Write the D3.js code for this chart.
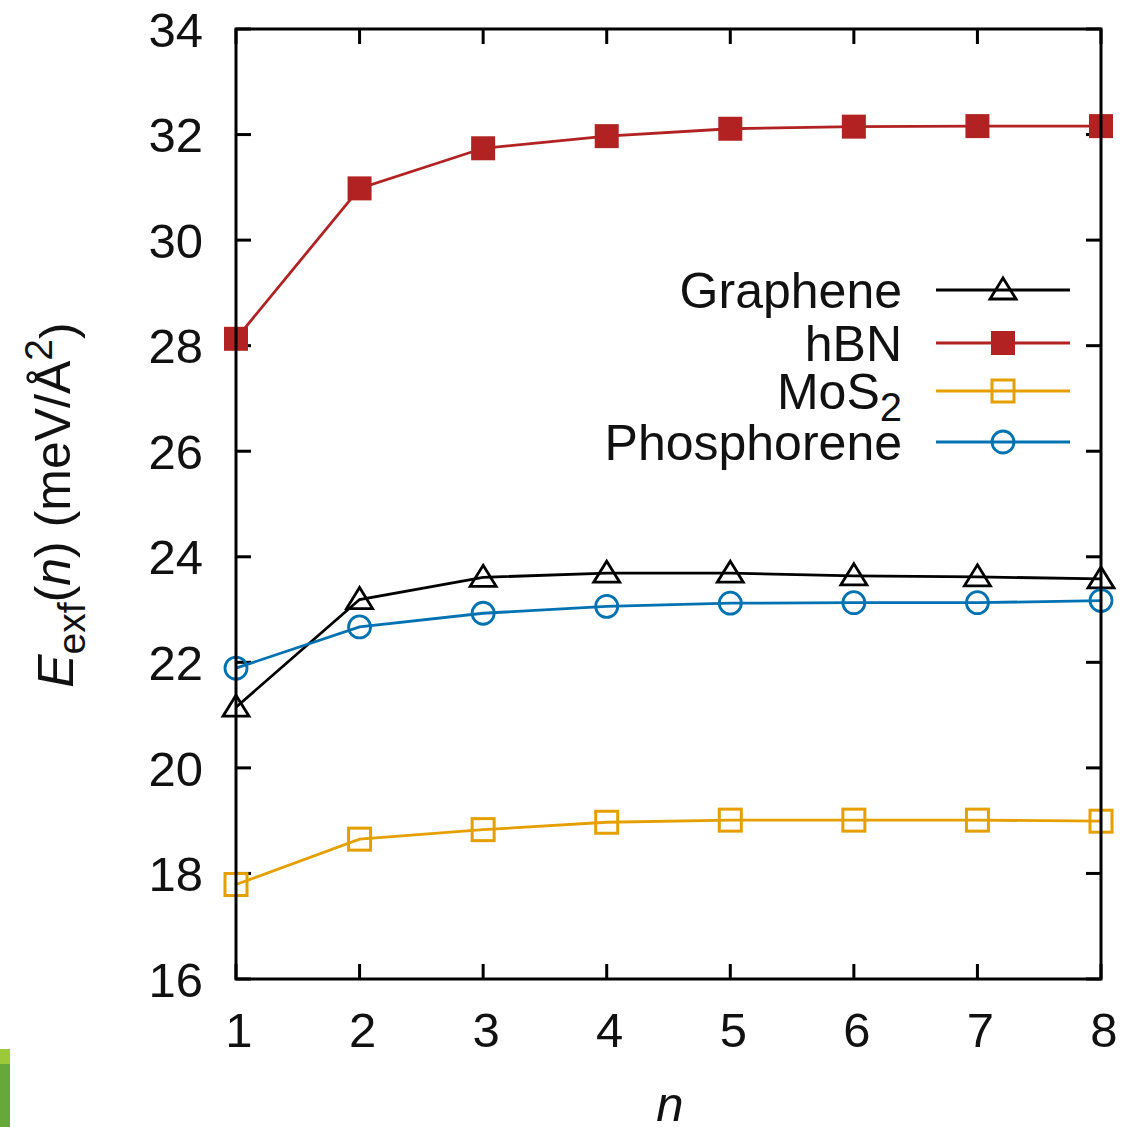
<!DOCTYPE html>
<html>
<head>
<meta charset="utf-8">
<script src="https://cdn.jsdelivr.net/npm/d3@7"></script>
<style>
  html, body { margin: 0; padding: 0; background: #fff; }
  svg text { font-family: "Liberation Sans", Arial, sans-serif; fill: #111; }
</style>
</head>
<body>
<div id="chart"></div>
<script>
// data
const layers = [1, 2, 3, 4, 5, 6, 7, 8]
const graphene = [21.15, 23.19, 23.61, 23.69, 23.69, 23.64, 23.62, 23.58]
const hbn = [28.13, 30.98, 31.74, 31.97, 32.11, 32.15, 32.16, 32.16]
const mos2 = [17.79, 18.65, 18.83, 18.97, 19.01, 19.01, 19.01, 18.99]
const phosphorene = [21.89, 22.67, 22.93, 23.06, 23.12, 23.13, 23.13, 23.17]
const yTicks = [16, 18, 20, 22, 24, 26, 28, 30, 32, 34]

const series = [
  { name: 'Graphene', values: graphene, color: '#000000', marker: 'triangle' },
  { name: 'hBN', values: hbn, color: '#b22222', marker: 'filledSquare' },
  { name: 'MoS', sub: '2', values: mos2, color: '#e69f00', marker: 'square' },
  { name: 'Phosphorene', values: phosphorene, color: '#0072b2', marker: 'circle' }
]

const width = 1125, height = 1127
const margin = { left: 236, right: 24, top: 29, bottom: 148 }

const svg = d3.select('#chart').append('svg')
  .attr('width', width)
  .attr('height', height)

const x = d3.scaleLinear().domain([1, 8]).range([margin.left, width - margin.right])
const y = d3.scaleLinear().domain([16, 34]).range([height - margin.bottom, margin.top])

const fontSize = 49
const tickLen = 15
const lw = 2.8

// ticks on all four sides, pointing inward
const frame = svg.append('g')
yTicks.forEach(v => {
  frame.append('line').attr('x1', x(1)).attr('x2', x(1) + tickLen).attr('y1', y(v)).attr('y2', y(v))
  frame.append('line').attr('x1', x(8)).attr('x2', x(8) - tickLen).attr('y1', y(v)).attr('y2', y(v))
  svg.append('text')
    .attr('x', x(1) - 33)
    .attr('y', y(v))
    .attr('dy', '0.36em')
    .attr('text-anchor', 'end')
    .style('font-size', fontSize + 'px')
    .text(v)
})
layers.forEach(v => {
  frame.append('line').attr('x1', x(v)).attr('x2', x(v)).attr('y1', y(16)).attr('y2', y(16) - tickLen)
  frame.append('line').attr('x1', x(v)).attr('x2', x(v)).attr('y1', y(34)).attr('y2', y(34) + tickLen)
  svg.append('text')
    .attr('x', x(v) + 3)
    .attr('y', 1047)
    .attr('text-anchor', 'middle')
    .style('font-size', fontSize + 'px')
    .text(v)
})
frame.selectAll('line').attr('stroke', '#000').attr('stroke-width', 3)

function drawMarker(g, type, cx, cy, color) {
  if (type === 'triangle') {
    g.append('path')
      .attr('d', `M${cx},${cy - 12}L${cx + 13},${cy + 9}L${cx - 13},${cy + 9}Z`)
      .attr('fill', 'none').attr('stroke', color).attr('stroke-width', lw)
  } else if (type === 'filledSquare') {
    g.append('rect').attr('x', cx - 12).attr('y', cy - 12).attr('width', 24).attr('height', 24)
      .attr('fill', color)
  } else if (type === 'square') {
    g.append('rect').attr('x', cx - 11).attr('y', cy - 11).attr('width', 22).attr('height', 22)
      .attr('fill', 'none').attr('stroke', color).attr('stroke-width', 3)
  } else {
    g.append('circle').attr('cx', cx).attr('cy', cy).attr('r', 11)
      .attr('fill', 'none').attr('stroke', color).attr('stroke-width', lw)
  }
}

const line = d3.line().x((d, i) => x(layers[i])).y(d => y(d))

series.forEach(s => {
  const g = svg.append('g')
  g.append('path')
    .datum(s.values)
    .attr('d', line)
    .attr('fill', 'none')
    .attr('stroke', s.color)
    .attr('stroke-width', lw)
  s.values.forEach((v, i) => drawMarker(g, s.marker, x(layers[i]), y(v), s.color))
})

// legend
const legendY = [290, 343, 391, 442]
series.forEach((s, i) => {
  const ly = legendY[i]
  const g = svg.append('g')
  const t = g.append('text')
    .attr('x', 902)
    .attr('y', ly)
    .attr('dy', '0.36em')
    .attr('text-anchor', 'end')
    .style('font-size', '50px')
  t.append('tspan').text(s.name)
  if (s.sub) {
    t.append('tspan').attr('dy', '0.3em').style('font-size', '40px').text(s.sub)
  }
  g.append('line').attr('x1', 936).attr('x2', 1070).attr('y1', ly).attr('y2', ly)
    .attr('stroke', s.color).attr('stroke-width', lw)
  drawMarker(g, s.marker, 1003, ly, s.color)
})

// frame
svg.append('rect')
  .attr('x', x(1)).attr('y', y(34))
  .attr('width', x(8) - x(1)).attr('height', y(16) - y(34))
  .attr('fill', 'none').attr('stroke', '#000').attr('stroke-width', 3)

// axis titles
svg.append('text')
  .attr('x', 670)
  .attr('y', 1121)
  .attr('text-anchor', 'middle')
  .style('font-size', fontSize + 'px')
  .style('font-style', 'italic')
  .text('n')

const yl = svg.append('text')
  .attr('transform', `translate(73,${505}) rotate(-90)`)
  .attr('text-anchor', 'middle')
  .style('font-size', '50px')
yl.append('tspan').style('font-style', 'italic').text('E')
yl.append('tspan').attr('dy', '0.3em').style('font-size', '39px').text('exf')
yl.append('tspan').attr('dy', '-0.3em').text('(')
yl.append('tspan').style('font-style', 'italic').text('n')
yl.append('tspan').text(') (meV/Å')
yl.append('tspan').attr('dy', '-0.45em').style('font-size', '39px').text('2')
yl.append('tspan').attr('dy', '0.45em').text(')')

// green strip at bottom left of the original image
svg.append('rect').attr('x', 0).attr('y', 1049).attr('width', 10).attr('height', 78).attr('fill', '#67a83a')
svg.append('rect').attr('x', 0).attr('y', 1049).attr('width', 10).attr('height', 15).attr('fill', '#9dc83a')
</script>
</body>
</html>
